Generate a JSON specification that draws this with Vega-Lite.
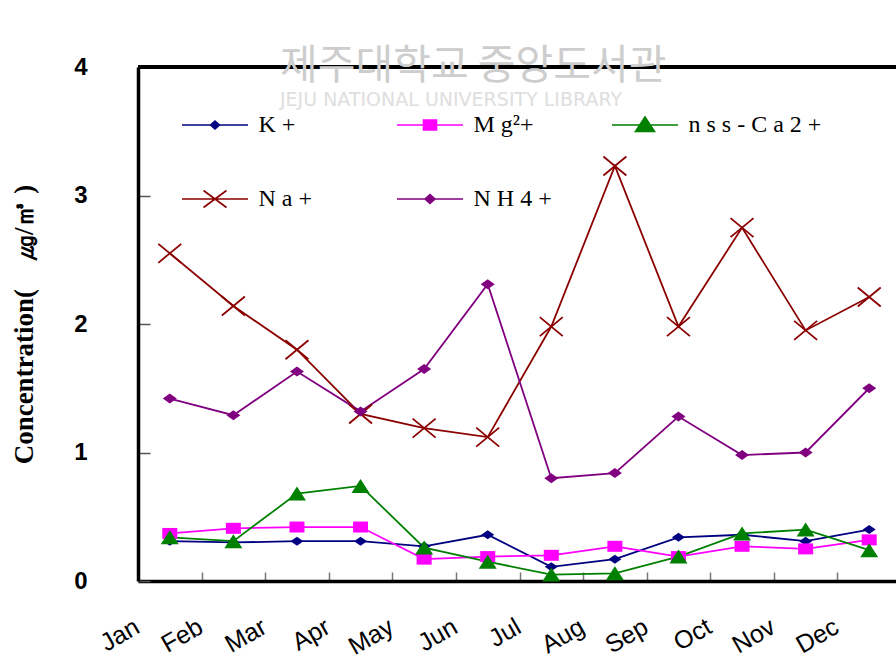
{
  "$schema": "https://vega.github.io/schema/vega-lite/v6.json",
  "width": 758,
  "height": 514,
  "autosize": {"type": "none"},
  "padding": {"left": 138, "top": 67, "right": 0, "bottom": 81},
  "background": "white",
  "view": {"stroke": null},
  "title": {
    "text": "제주대학교 중앙도서관",
    "subtitle": "JEJU NATIONAL UNIVERSITY LIBRARY",
    "anchor": "start",
    "frame": "group",
    "dx": 142,
    "offset": -56,
    "font": "Noto Sans CJK KR",
    "fontSize": 41,
    "fontWeight": "normal",
    "color": "#cdcdcd",
    "subtitleFont": "DejaVu Sans",
    "subtitleFontSize": 19,
    "subtitleColor": "#dedede",
    "subtitlePadding": 3
  },
  "data": {
    "values": [
      {"m": "Jan", "ion": "K+", "v": 0.31}, {"m": "Feb", "ion": "K+", "v": 0.30}, {"m": "Mar", "ion": "K+", "v": 0.31}, {"m": "Apr", "ion": "K+", "v": 0.31}, {"m": "May", "ion": "K+", "v": 0.27}, {"m": "Jun", "ion": "K+", "v": 0.36}, {"m": "Jul", "ion": "K+", "v": 0.11}, {"m": "Aug", "ion": "K+", "v": 0.17}, {"m": "Sep", "ion": "K+", "v": 0.34}, {"m": "Oct", "ion": "K+", "v": 0.36}, {"m": "Nov", "ion": "K+", "v": 0.31}, {"m": "Dec", "ion": "K+", "v": 0.40},
      {"m": "Jan", "ion": "Mg2+", "v": 0.37}, {"m": "Feb", "ion": "Mg2+", "v": 0.41}, {"m": "Mar", "ion": "Mg2+", "v": 0.42}, {"m": "Apr", "ion": "Mg2+", "v": 0.42}, {"m": "May", "ion": "Mg2+", "v": 0.17}, {"m": "Jun", "ion": "Mg2+", "v": 0.19}, {"m": "Jul", "ion": "Mg2+", "v": 0.20}, {"m": "Aug", "ion": "Mg2+", "v": 0.27}, {"m": "Sep", "ion": "Mg2+", "v": 0.19}, {"m": "Oct", "ion": "Mg2+", "v": 0.27}, {"m": "Nov", "ion": "Mg2+", "v": 0.25}, {"m": "Dec", "ion": "Mg2+", "v": 0.32},
      {"m": "Jan", "ion": "nss-Ca2+", "v": 0.34}, {"m": "Feb", "ion": "nss-Ca2+", "v": 0.31}, {"m": "Mar", "ion": "nss-Ca2+", "v": 0.68}, {"m": "Apr", "ion": "nss-Ca2+", "v": 0.74}, {"m": "May", "ion": "nss-Ca2+", "v": 0.26}, {"m": "Jun", "ion": "nss-Ca2+", "v": 0.15}, {"m": "Jul", "ion": "nss-Ca2+", "v": 0.05}, {"m": "Aug", "ion": "nss-Ca2+", "v": 0.06}, {"m": "Sep", "ion": "nss-Ca2+", "v": 0.19}, {"m": "Oct", "ion": "nss-Ca2+", "v": 0.37}, {"m": "Nov", "ion": "nss-Ca2+", "v": 0.40}, {"m": "Dec", "ion": "nss-Ca2+", "v": 0.24},
      {"m": "Jan", "ion": "Na+", "v": 2.55}, {"m": "Feb", "ion": "Na+", "v": 2.14}, {"m": "Mar", "ion": "Na+", "v": 1.80}, {"m": "Apr", "ion": "Na+", "v": 1.30}, {"m": "May", "ion": "Na+", "v": 1.19}, {"m": "Jun", "ion": "Na+", "v": 1.12}, {"m": "Jul", "ion": "Na+", "v": 1.98}, {"m": "Aug", "ion": "Na+", "v": 3.23}, {"m": "Sep", "ion": "Na+", "v": 1.98}, {"m": "Oct", "ion": "Na+", "v": 2.75}, {"m": "Nov", "ion": "Na+", "v": 1.95}, {"m": "Dec", "ion": "Na+", "v": 2.21},
      {"m": "Jan", "ion": "NH4+", "v": 1.42}, {"m": "Feb", "ion": "NH4+", "v": 1.29}, {"m": "Mar", "ion": "NH4+", "v": 1.63}, {"m": "Apr", "ion": "NH4+", "v": 1.32}, {"m": "May", "ion": "NH4+", "v": 1.65}, {"m": "Jun", "ion": "NH4+", "v": 2.31}, {"m": "Jul", "ion": "NH4+", "v": 0.80}, {"m": "Aug", "ion": "NH4+", "v": 0.84}, {"m": "Sep", "ion": "NH4+", "v": 1.28}, {"m": "Oct", "ion": "NH4+", "v": 0.98}, {"m": "Nov", "ion": "NH4+", "v": 1.00}, {"m": "Dec", "ion": "NH4+", "v": 1.50}
    ]
  },
  "encoding": {
    "x": {
      "field": "m",
      "type": "nominal",
      "sort": ["Jan", "Feb", "Mar", "Apr", "May", "Jun", "Jul", "Aug", "Sep", "Oct", "Nov", "Dec"],
      "scale": {"type": "band", "paddingInner": 0, "paddingOuter": 0, "range": [0, 763]},
      "axis": {
        "title": null,
        "domainColor": "black",
        "domainWidth": 3.5,
        "tickBand": "extent",
        "tickColor": "#777",
        "tickWidth": 1.5,
        "tickSize": -9,
        "labelAngle": -30,
        "labelAlign": "right",
        "labelBaseline": "top",
        "labelOffset": -39,
        "labelPadding": 42,
        "labelFont": "Liberation Sans",
        "labelFontSize": 25,
        "labelColor": "black"
      }
    },
    "y": {
      "field": "v",
      "type": "quantitative",
      "scale": {"domain": [0, 4], "nice": false},
      "axis": {
        "values": [0, 1, 2, 3, 4],
        "grid": false,
        "domainColor": "black",
        "domainWidth": 3.5,
        "tickColor": "#555",
        "tickWidth": 1.5,
        "tickSize": -12,
        "labelPadding": 63,
        "labelFont": "Liberation Sans",
        "labelFontWeight": "bold",
        "labelFontSize": 24,
        "labelColor": "black",
        "labelBaseline": "middle",
        "title": "Concentration(　㎍/㎥ )",
        "titleFont": "Liberation Serif",
        "titleFontWeight": "bold",
        "titleFontSize": 27,
        "titleColor": "black",
        "titleAngle": -90,
        "titleX": -114,
        "titleY": 257,
        "titleAlign": "center",
        "titleBaseline": "middle"
      }
    },
    "color": {
      "field": "ion",
      "type": "nominal",
      "scale": {"domain": ["K+", "Mg2+", "nss-Ca2+", "Na+", "NH4+"], "range": ["#000080", "#FF00FF", "#008000", "#8B0000", "#800080"]},
      "legend": null
    }
  },
  "layer": [
    {
      "mark": {"type": "rule", "color": "black", "strokeWidth": 3.5},
      "encoding": {"y": {"datum": 4}, "x": null, "color": null}
    },
    {
      "mark": {"type": "line", "strokeWidth": 1.8},
      "encoding": {
        "color": {
          "field": "ion",
          "type": "nominal",
          "legend": {
            "orient": "none",
            "legendX": 65,
            "legendY": 46,
            "title": null,
            "columns": 3,
            "direction": "horizontal",
            "gridAlign": "all",
            "columnPadding": 1,
            "rowPadding": 50,
            "padding": 0,
            "symbolSize": 400,
            "symbolStrokeWidth": 1.6,
            "labelFont": "Liberation Serif",
            "labelFontSize": 24,
            "labelColor": "black",
            "labelOffset": 31.5,
            "labelBaseline": "middle",
            "labelExpr": "{'K+':'K +','Mg2+':'M g²+','nss-Ca2+':'n s s - C a 2 +','Na+':'N a +','NH4+':'N H 4 +'}[datum.label]",
            "encode": {
              "symbols": {
                "update": {
                  "shape": {"signal": "{'K+':'M-3.3,0L3.3,0M-0.45,0L0,-0.4L0.45,0L0,0.4Z','Mg2+':'M-3.3,0L3.3,0M-0.65,-0.5L0.65,-0.5L0.65,0.5L-0.65,0.5Z','nss-Ca2+':'M-3.3,0L3.3,0M0,-0.8L0.95,0.65L-0.95,0.65Z','Na+':'M-3.3,0L3.3,0M-1.15,-0.85L1.15,0.85M-1.15,0.85L1.15,-0.85','NH4+':'M-3.3,0L3.3,0M-0.5,0L0,-0.45L0.5,0L0,0.45Z'}[datum.value]"},
                  "fill": {"signal": "scale('color', datum.value)"},
                  "stroke": {"signal": "scale('color', datum.value)"},
                  "strokeWidth": {"value": 1.6},
                  "size": {"value": 400}
                }
              }
            }
          }
        }
      }
    },
    {
      "transform": [{"filter": "datum.ion === 'K+'"}],
      "mark": {"type": "point", "filled": true, "size": 400, "opacity": 1, "shape": "M-0.65,0L0,-0.45L0.65,0L0,0.45Z"}
    },
    {
      "transform": [{"filter": "datum.ion === 'Mg2+'"}],
      "mark": {"type": "point", "filled": true, "size": 400, "opacity": 1, "shape": "M-0.75,-0.55L0.75,-0.55L0.75,0.55L-0.75,0.55Z"}
    },
    {
      "transform": [{"filter": "datum.ion === 'nss-Ca2+'"}],
      "mark": {"type": "point", "filled": true, "size": 400, "opacity": 1, "shape": "M0,-0.7L0.9,0.7L-0.9,0.7Z"}
    },
    {
      "transform": [{"filter": "datum.ion === 'Na+'"}],
      "mark": {"type": "point", "filled": false, "size": 400, "strokeWidth": 1.8, "opacity": 1, "shape": "M-1.15,-0.95L1.15,0.95M-1.15,0.95L1.15,-0.95"}
    },
    {
      "transform": [{"filter": "datum.ion === 'NH4+'"}],
      "mark": {"type": "point", "filled": true, "size": 400, "opacity": 1, "shape": "M-0.7,0L0,-0.5L0.7,0L0,0.5Z"}
    }
  ]
}
